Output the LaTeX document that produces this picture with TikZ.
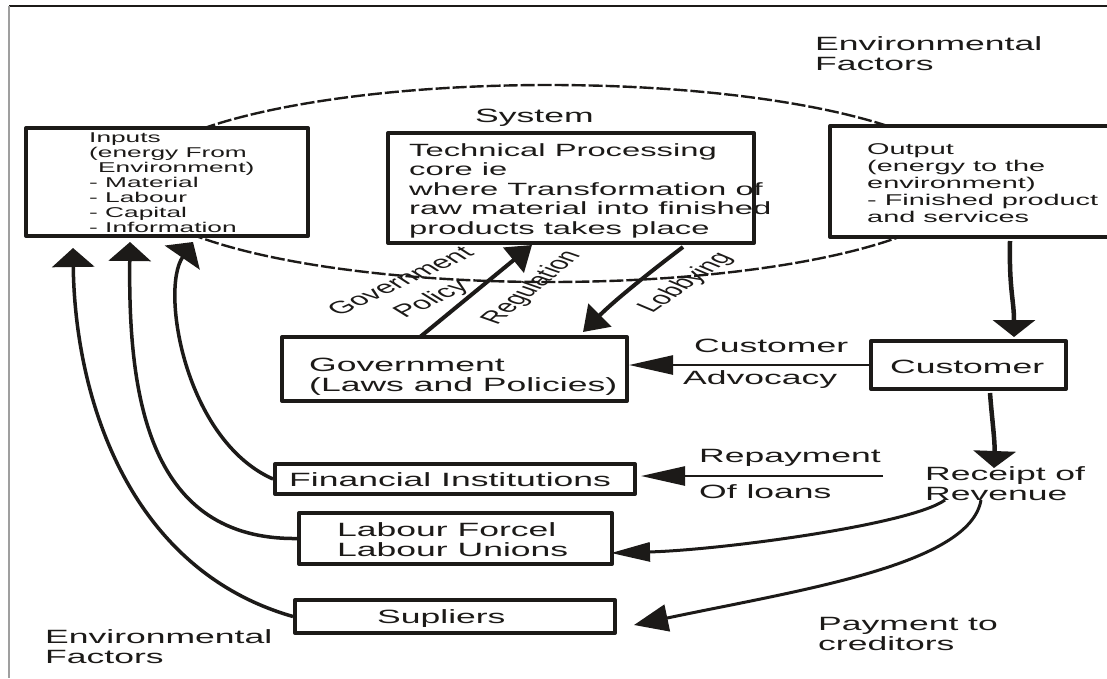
\documentclass[tikz,border=0pt]{standalone}
\usepackage{fontspec}
\setmainfont{Liberation Sans}[FakeStretch=1.85]
\newfontfamily\rotfont{Liberation Sans}
\usetikzlibrary{arrows.meta}
\definecolor{ink}{RGB}{28,26,24}
\tikzset{
  box/.style={draw=ink, line width=4pt, fill=white, inner sep=0pt},
  txt/.style={inner sep=0pt, anchor=base west, align=left, text=ink},
  big/.style={font=\fontsize{19.2}{20}\selectfont},
  tech/.style={font=\fontsize{17.7}{19.5}\selectfont},
  outtxt/.style={font=\fontsize{15.6}{17}\selectfont},
  intxt/.style={font=\fontsize{14.2}{15}\selectfont},
  rotlab/.style={transform shape, inner sep=0pt, text=ink, font=\rotfont\fontsize{17.5}{18}\selectfont},
  sysline/.style={draw=ink, line width=2.4pt, dash pattern=on 14pt off 3pt},
  uparrow/.style={draw=ink, line width=3.5pt, -{Triangle[length=19pt,width=42pt]}},
  varrow/.style={draw=ink, line width=4.5pt, -{Triangle[length=17pt,width=42pt]}},
  harrow/.style={draw=ink, line width=2.5pt, -{Triangle[length=44pt,width=19pt]}},
  carrow/.style={draw=ink, line width=3pt, -{Triangle[length=39pt,width=19pt]}},
  darrow/.style={draw=ink, line width=4pt, -{Triangle[length=24pt,width=32pt]}},
}
\begin{document}
\begin{tikzpicture}[x=1pt, y=-1pt, line join=round]
\useasboundingbox (0,0) rectangle (1107,678);
% frame
\draw[ink, line width=1.2pt] (9,6) -- (1107,6);
\draw[gray!75, line width=1.8pt] (9,6) -- (9,678);

% system boundary
\draw[sysline] (549,183.5) ellipse [x radius=417pt, y radius=98.5pt];

% boxes
\node[box, minimum width=282pt, minimum height=108pt] (inp) at (167,182) {};
\node[box, minimum width=366pt, minimum height=110pt] (tec) at (571,188) {};
\node[box, minimum width=283pt, minimum height=111pt] (out) at (971.5,181.5) {};
\node[box, minimum width=345pt, minimum height=64pt] (gov) at (454.5,369) {};
\node[box, minimum width=360pt, minimum height=30pt] (fin) at (455,479) {};
\node[box, minimum width=313pt, minimum height=51pt] (lab) at (455.5,538.5) {};
\node[box, minimum width=320pt, minimum height=33pt] (sup) at (455,616.5) {};
\node[box, minimum width=195pt, minimum height=48pt] (cus) at (968.5,365) {};

% texts (anchor = baseline of the last line)
\node[txt, big] (envt) at (815,70) {Environmental\\Factors};
\node[txt, big] (envb) at (45,663) {Environmental\\Factors};
\node[txt, big] (sys) at (475,122) {System};
\node[txt, intxt] (inpt) at (89,232) {Inputs\\(energy From\\\hspace*{9pt}Environment)\\- Material\\- Labour\\- Capital\\- Information};
\node[txt, tech] (tect) at (409,234) {Technical Processing\\core ie\\where Transformation of\\raw material into finished\\products takes place};
\node[txt, outtxt] (outt) at (867,222) {Output\\(energy to the\\environment)\\- Finished product\\and services};
\node[txt, big] (govt) at (309,391.7) {Government\\(Laws and Policies)};
\node[txt, big] (fint) at (289,486) {Financial Institutions};
\node[txt, big] (labt) at (337,556.7) {Labour Forcel\\Labour Unions};
\node[txt, big] (supt) at (377,623) {Supliers};
\node[txt, big] (cust) at (890,373.3) {Customer};
\node[txt, big] (ca1) at (694,352) {Customer};
\node[txt, big] (ca2) at (683,384) {Advocacy};
\node[txt, big] (rp1) at (699,462) {Repayment};
\node[txt, big] (rp2) at (699,498) {Of loans};
\node[txt, big] (rec) at (925,500) {Receipt of\\Revenue};
\node[txt, big] (pay) at (818,650) {Payment to\\creditors};

% rotated labels
\begin{scope}[shift={(400,281)}, xscale=1.85]
  \node[rotlab, rotate=40] (lg) {Government};
\end{scope}
\begin{scope}[shift={(432,300)}, xscale=1.85]
  \node[rotlab, rotate=41] (lp) {Policy};
\end{scope}
\begin{scope}[shift={(532,288)}, xscale=1.85]
  \node[rotlab, rotate=57] (lr) {Regulation};
\end{scope}
\begin{scope}[shift={(686,283)}, xscale=1.85]
  \node[rotlab, rotate=52] (ll) {Lobbying};
\end{scope}

% free ends
\coordinate (t1) at (73,248);
\coordinate (t2) at (130,242);
\coordinate (t3) at (193,242);
\coordinate (gp1) at (420,337);
\coordinate (gp2) at (532,245);
\coordinate (lb1) at (683,247);
\coordinate (lb2) at (583,332);
\coordinate (oc1) at (1010,241);
\coordinate (oc2) at (1014,337);
\coordinate (cr1) at (990,393);
\coordinate (cr2) at (994,468);
\coordinate (rpa) at (883,476);
\coordinate (rl1) at (945,500);
\coordinate (rl2) at (611,553);
\coordinate (rs1) at (981,500);
\coordinate (rs2) at (634,625);

% connectors
\draw[uparrow] (sup.west) .. controls (130,570) and (75,400) .. (t1);
\draw[uparrow] (lab.west) .. controls (150,540) and (128,400) .. (t2);
\draw[uparrow] (fin.west) .. controls (185,440) and (160,290) .. (t3);
\draw[darrow] (gp1) -- (gp2);
\draw[darrow] (lb1) .. controls (650,272) and (615,300) .. (lb2);
\draw[varrow] (oc1) .. controls (1009,290) and (1014,300) .. (oc2);
\draw[varrow] (cr1) .. controls (992,420) and (995,440) .. (cr2);
\draw[harrow] (cus.west) -- (cus.west -| gov.east);
\draw[harrow, shorten >=4pt] (rpa) -- (rpa -| fin.east);
\draw[carrow] (rl1) .. controls (910,525) and (720,550) .. (rl2);
\draw[draw=ink, line width=3pt, -{Triangle[length=34pt,width=27pt]}] (rs1) .. controls (970,565) and (800,590) .. (rs2);
\end{tikzpicture}
\end{document}
